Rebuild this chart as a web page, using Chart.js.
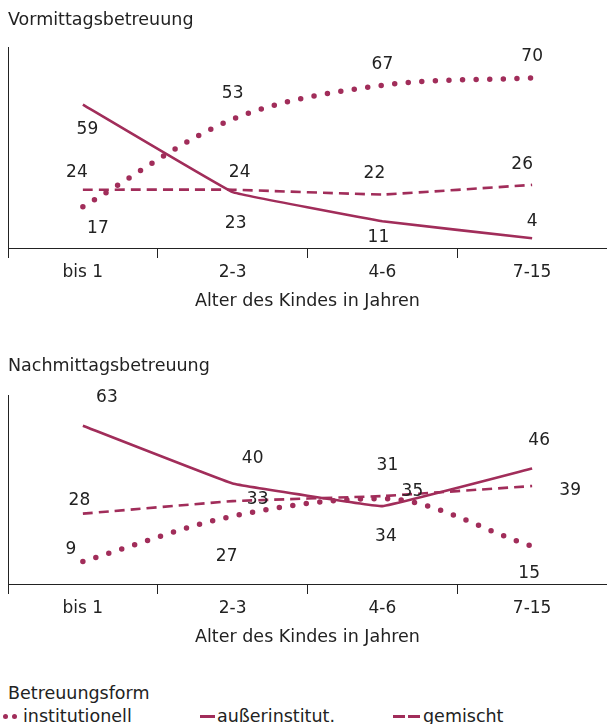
<!DOCTYPE html>
<html>
<head>
<meta charset="utf-8">
<script src="https://cdn.jsdelivr.net/npm/chart.js@4/dist/chart.umd.min.js"></script>
<style>
  html, body { margin: 0; padding: 0; background: #fff; }
  body { width: 607px; height: 724px; overflow: hidden; position: relative; font-family: "DejaVu Sans", sans-serif; color: #222; }
  canvas { position: absolute; left: 0; display: block; }
  .lg { position: absolute; font-size: 17.5px; line-height: 20px; white-space: nowrap; color: #222; }
  .mk { position: absolute; background: #a12d5a; }
  .dot { position: absolute; width: 5px; height: 5px; border-radius: 50%; background: #a12d5a; }
</style>
</head>
<body>
<canvas id="c1" width="607" height="320" style="top:0px"></canvas>
<canvas id="c2" width="607" height="320" style="top:336px"></canvas>

<div class="lg" style="left:8px; top:683px;">Betreuungsform</div>
<div class="dot" style="left:3px; top:714px;"></div>
<div class="dot" style="left:12px; top:714px;"></div>
<div class="lg" style="left:23px; top:706px;">institutionell</div>
<div class="mk" style="left:200px; top:715px; width:15px; height:3px;"></div>
<div class="lg" style="left:217px; top:706px;">außerinstitut.</div>
<div class="mk" style="left:393px; top:715px; width:12px; height:3px;"></div>
<div class="mk" style="left:408px; top:715px; width:12px; height:3px;"></div>
<div class="lg" style="left:423px; top:706px;">gemischt</div>

<script>
// ---- data ----
const categories = ['bis 1', '2-3', '4-6', '7-15'];
const seriesNames = ['institutionell', 'außerinstitut.', 'gemischt'];

const vormInstitutionell = [17, 53, 67, 70];
const vormAusserinstitut = [59, 23, 11, 4];
const vormGemischt = [24, 24, 22, 26];

const nachInstitutionell = [9, 27, 34, 15];
const nachAusserinstitut = [63, 40, 31, 46];
const nachGemischt = [28, 33, 35, 39];

const titleVorm = 'Vormittagsbetreuung';
const titleNach = 'Nachmittagsbetreuung';
const xAxisTitle = 'Alter des Kindes in Jahren';

// ---- styling / label placement (pixels relative to each point) ----
const COLOR = '#a12d5a';
const TEXT = '#222';
const FONT = '"DejaVu Sans", sans-serif';

const offsetsVorm = [
  [[15, 20], [0, -27], [0, -22], [0, -23.5]],      // institutionell
  [[4.5, 23], [3, 30], [-4, 15], [0, -18]],         // außerinstitut.
  [[-6, -18.5], [7, -18.5], [-8, -23], [-10, -22]]  // gemischt
];
const offsetsNach = [
  [[-12, -14], [-6, 39], [3.5, 36], [-3, 25]],
  [[24, -29.5], [20, -27], [5, -42], [7, -30]],
  [[-3.5, -15], [25, -3], [30, -6], [38, 3]]
];

const valueLabels = {
  id: 'valueLabels',
  afterDatasetsDraw(chart, args, opts) {
    const ctx = chart.ctx;
    ctx.save();
    ctx.font = '17px ' + FONT;
    ctx.fillStyle = TEXT;
    ctx.textAlign = 'center';
    ctx.textBaseline = 'alphabetic';
    chart.data.datasets.forEach((ds, i) => {
      const meta = chart.getDatasetMeta(i);
      meta.data.forEach((pt, j) => {
        const off = opts.offsets[i][j];
        ctx.fillText(String(ds.data[j]), pt.x + off[0], pt.y + off[1] + 6.2);
      });
    });
    ctx.restore();
  }
};

function makeChart(id, title, inst, auss, gem, yMax, titlePad, offsets) {
  return new Chart(document.getElementById(id), {
    type: 'line',
    data: {
      labels: categories,
      datasets: [
        { label: seriesNames[0], data: inst, borderColor: COLOR, borderWidth: 5.5,
          borderDash: [0, 13.6], borderCapStyle: 'round', cubicInterpolationMode: 'monotone',
          pointRadius: 0, fill: false },
        { label: seriesNames[1], data: auss, borderColor: COLOR, borderWidth: 2.6,
          tension: 0.05, pointRadius: 0, fill: false },
        { label: seriesNames[2], data: gem, borderColor: COLOR, borderWidth: 2.6,
          borderDash: [10, 6], tension: 0.05, pointRadius: 0, fill: false }
      ]
    },
    options: {
      responsive: false,
      animation: false,
      devicePixelRatio: 1,
      layout: { padding: { left: 8, right: -4, top: 0, bottom: 0 } },
      plugins: {
        legend: { display: false },
        tooltip: { enabled: false },
        title: {
          display: true, text: title, align: 'start', color: TEXT,
          font: { family: FONT, size: 17.5, weight: 'normal', lineHeight: 1.2 },
          padding: titlePad
        },
        valueLabels: { offsets: offsets }
      },
      scales: {
        x: {
          type: 'category',
          offset: true,
          grid: { display: true, drawOnChartArea: false, drawTicks: true, tickLength: 10,
                  color: '#222', lineWidth: 1, offset: true },
          border: { display: true, color: '#222', width: 1 },
          ticks: { color: TEXT, padding: 4, font: { family: FONT, size: 17 }, maxRotation: 0, autoSkip: false },
          title: { display: true, text: xAxisTitle, color: TEXT,
                   font: { family: FONT, size: 17.5, lineHeight: 1.2 }, padding: { top: 0, bottom: 8 } },
          afterFit(scale) { scale.height = 72; }
        },
        y: {
          min: 0, max: yMax,
          grid: { display: false, drawTicks: false },
          border: { display: true, color: '#222', width: 1 },
          ticks: { display: false },
          afterFit(scale) { scale.width = 0; }
        }
      }
    },
    plugins: [valueLabels]
  });
}

makeChart('c1', titleVorm, vormInstitutionell, vormAusserinstitut, vormGemischt, 82.5,
  { top: 10, bottom: 16.6 }, offsetsVorm);
makeChart('c2', titleNach, nachInstitutionell, nachAusserinstitut, nachGemischt, 75,
  { top: 20, bottom: 18.6 }, offsetsNach);
</script>
</body>
</html>
